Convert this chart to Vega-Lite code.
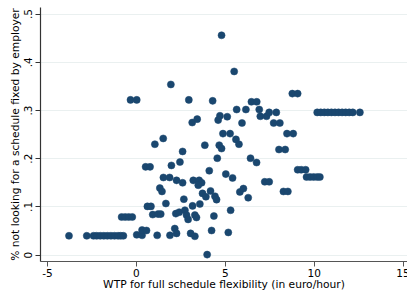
{
  "$schema": "https://vega.github.io/schema/vega-lite/v6.json",
  "width": 367,
  "height": 254,
  "autosize": {"type": "none"},
  "padding": {"left": 40, "top": 7, "right": 0, "bottom": 31},
  "background": "white",
  "config": {
    "view": {"stroke": null},
    "font": "DejaVu Sans"
  },
  "data": {
    "values": [
      {"wtp": -3.76, "share": 0.039}, {"wtp": -2.76, "share": 0.039}, {"wtp": -2.38, "share": 0.039}, {"wtp": -2.2, "share": 0.039},
      {"wtp": -2.0, "share": 0.039}, {"wtp": -1.8, "share": 0.039}, {"wtp": -1.6, "share": 0.039}, {"wtp": -1.4, "share": 0.039},
      {"wtp": -1.2, "share": 0.039}, {"wtp": -1.0, "share": 0.039}, {"wtp": -0.85, "share": 0.039}, {"wtp": -0.7, "share": 0.039},
      {"wtp": -0.8, "share": 0.078}, {"wtp": -0.6, "share": 0.078}, {"wtp": -0.4, "share": 0.078}, {"wtp": -0.2, "share": 0.078},
      {"wtp": 0.05, "share": 0.041}, {"wtp": 0.35, "share": 0.04}, {"wtp": 0.35, "share": 0.051}, {"wtp": 0.6, "share": 0.05},
      {"wtp": 0.55, "share": 0.182}, {"wtp": 0.8, "share": 0.182},
      {"wtp": 0.65, "share": 0.1}, {"wtp": 0.85, "share": 0.1},
      {"wtp": 0.95, "share": 0.083}, {"wtp": 1.25, "share": 0.084}, {"wtp": 1.4, "share": 0.084},
      {"wtp": 1.2, "share": 0.04},
      {"wtp": 1.07, "share": 0.229}, {"wtp": 1.54, "share": 0.241},
      {"wtp": 1.55, "share": 0.16}, {"wtp": 1.9, "share": 0.16},
      {"wtp": 1.35, "share": 0.138}, {"wtp": 1.47, "share": 0.131},
      {"wtp": 1.69, "share": 0.106},
      {"wtp": -0.3, "share": 0.321}, {"wtp": 0.05, "share": 0.321},
      {"wtp": 1.97, "share": 0.353},
      {"wtp": 2.0, "share": 0.185}, {"wtp": 2.48, "share": 0.192},
      {"wtp": 2.29, "share": 0.154}, {"wtp": 2.63, "share": 0.149},
      {"wtp": 2.25, "share": 0.085},
      {"wtp": 1.92, "share": 0.04}, {"wtp": 2.19, "share": 0.054}, {"wtp": 2.29, "share": 0.044},
      {"wtp": 2.63, "share": 0.214},
      {"wtp": 2.98, "share": 0.321},
      {"wtp": 3.17, "share": 0.274}, {"wtp": 3.45, "share": 0.281},
      {"wtp": 2.7, "share": 0.115},
      {"wtp": 3.19, "share": 0.101}, {"wtp": 3.6, "share": 0.105},
      {"wtp": 2.44, "share": 0.088}, {"wtp": 2.76, "share": 0.092}, {"wtp": 2.85, "share": 0.082}, {"wtp": 2.94, "share": 0.073},
      {"wtp": 3.32, "share": 0.082}, {"wtp": 3.41, "share": 0.077},
      {"wtp": 3.08, "share": 0.044}, {"wtp": 3.32, "share": 0.038},
      {"wtp": 3.23, "share": 0.154}, {"wtp": 3.56, "share": 0.154}, {"wtp": 3.7, "share": 0.149}, {"wtp": 3.51, "share": 0.144},
      {"wtp": 3.75, "share": 0.127}, {"wtp": 3.94, "share": 0.12}, {"wtp": 4.2, "share": 0.132}, {"wtp": 4.45, "share": 0.121}, {"wtp": 4.54, "share": 0.114},
      {"wtp": 4.13, "share": 0.174},
      {"wtp": 4.39, "share": 0.08},
      {"wtp": 4.26, "share": 0.05},
      {"wtp": 4.01, "share": 0.0},
      {"wtp": 5.2, "share": 0.046},
      {"wtp": 5.33, "share": 0.092},
      {"wtp": 4.58, "share": 0.2},
      {"wtp": 3.88, "share": 0.227}, {"wtp": 4.69, "share": 0.227}, {"wtp": 4.82, "share": 0.22},
      {"wtp": 5.63, "share": 0.239}, {"wtp": 5.8, "share": 0.229},
      {"wtp": 5.06, "share": 0.167}, {"wtp": 5.44, "share": 0.159},
      {"wtp": 4.9, "share": 0.251}, {"wtp": 5.3, "share": 0.251},
      {"wtp": 4.73, "share": 0.288}, {"wtp": 4.63, "share": 0.279}, {"wtp": 5.14, "share": 0.286},
      {"wtp": 4.32, "share": 0.319},
      {"wtp": 4.82, "share": 0.455},
      {"wtp": 5.53, "share": 0.38},
      {"wtp": 5.67, "share": 0.301}, {"wtp": 6.19, "share": 0.301}, {"wtp": 6.94, "share": 0.301},
      {"wtp": 5.97, "share": 0.273},
      {"wtp": 5.85, "share": 0.13}, {"wtp": 6.05, "share": 0.137}, {"wtp": 6.32, "share": 0.118},
      {"wtp": 6.45, "share": 0.2}, {"wtp": 6.79, "share": 0.191},
      {"wtp": 6.5, "share": 0.317}, {"wtp": 6.8, "share": 0.317},
      {"wtp": 7.0, "share": 0.287}, {"wtp": 7.35, "share": 0.287},
      {"wtp": 7.5, "share": 0.295}, {"wtp": 7.9, "share": 0.295},
      {"wtp": 7.75, "share": 0.273}, {"wtp": 8.1, "share": 0.273},
      {"wtp": 7.25, "share": 0.151}, {"wtp": 7.5, "share": 0.151},
      {"wtp": 8.05, "share": 0.218}, {"wtp": 8.4, "share": 0.218},
      {"wtp": 8.5, "share": 0.251}, {"wtp": 8.85, "share": 0.251},
      {"wtp": 8.3, "share": 0.131}, {"wtp": 8.55, "share": 0.131},
      {"wtp": 8.8, "share": 0.334}, {"wtp": 9.1, "share": 0.334},
      {"wtp": 9.1, "share": 0.176}, {"wtp": 9.3, "share": 0.176}, {"wtp": 9.55, "share": 0.176},
      {"wtp": 9.6, "share": 0.161}, {"wtp": 9.8, "share": 0.161}, {"wtp": 10.0, "share": 0.161}, {"wtp": 10.2, "share": 0.161}, {"wtp": 10.35, "share": 0.161},
      {"wtp": 10.2, "share": 0.295}, {"wtp": 10.4, "share": 0.295}, {"wtp": 10.6, "share": 0.295}, {"wtp": 10.8, "share": 0.295},
      {"wtp": 11.0, "share": 0.295}, {"wtp": 11.2, "share": 0.295}, {"wtp": 11.4, "share": 0.295}, {"wtp": 11.6, "share": 0.295},
      {"wtp": 11.8, "share": 0.295}, {"wtp": 12.0, "share": 0.295}, {"wtp": 12.2, "share": 0.295}, {"wtp": 12.6, "share": 0.295}
    ]
  },
  "mark": {"type": "point", "shape": "circle", "filled": true, "opacity": 1, "size": 50, "color": "#1a476f", "stroke": "#1a476f", "strokeWidth": 0.5},
  "encoding": {
    "x": {
      "field": "wtp", "type": "quantitative",
      "scale": {"domain": [-5.39, 15.25], "nice": false, "zero": false},
      "axis": {
        "values": [-5, 0, 5, 10, 15],
        "labelExpr": "replace(format(datum.value, 'd'), '−', '-')",
        "title": "WTP for full schedule flexibility (in euro/hour)",
        "titleFont": "DejaVu Sans", "titleFontSize": 10.7, "titleFontWeight": "normal", "titleColor": "#000", "titlePadding": 1,
        "labelFont": "DejaVu Sans", "labelFontSize": 10.5, "labelColor": "#000", "labelPadding": 2,
        "grid": false, "domainColor": "#555", "domainWidth": 1.2, "tickColor": "#555", "tickSize": 5, "tickWidth": 1,
        "labelFlush": false, "labelOverlap": false
      }
    },
    "y": {
      "field": "share", "type": "quantitative",
      "scale": {"domain": [-0.0133, 0.5137], "nice": false, "zero": false},
      "axis": {
        "values": [0, 0.1, 0.2, 0.3, 0.4, 0.5],
        "labelExpr": "datum.value == 0 ? '0' : replace(format(datum.value, '.1f'), '0.', '.')",
        "title": "% not looking for a schedule fixed by employer",
        "titleFont": "DejaVu Sans", "titleFontSize": 10.7, "titleFontWeight": "normal", "titleColor": "#000", "titlePadding": 3,
        "labelFont": "DejaVu Sans", "labelFontSize": 10.5, "labelColor": "#000", "labelAngle": -90, "labelPadding": 2,
        "labelAlign": "center", "labelBaseline": "bottom",
        "grid": true, "gridColor": "#eaf0f0", "gridWidth": 1,
        "domainColor": "#333", "domainWidth": 1.2, "tickColor": "#333", "tickSize": 5, "tickWidth": 1,
        "labelFlush": false, "labelOverlap": false
      }
    }
  }
}
